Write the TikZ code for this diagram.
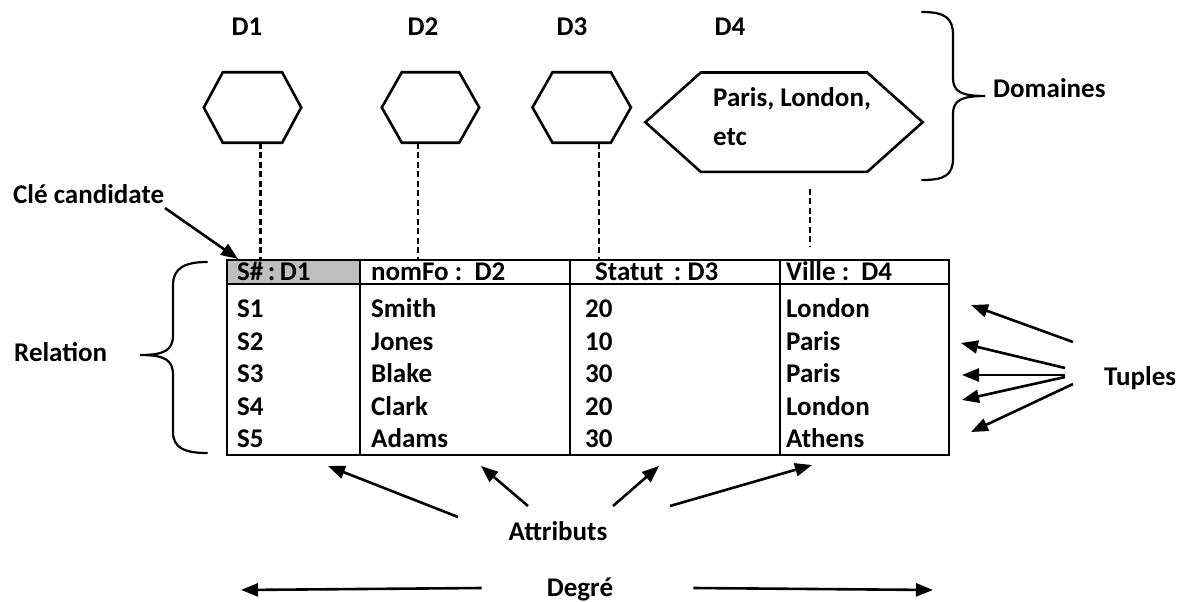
\documentclass[tikz,border=0pt]{standalone}
\usepackage{fontspec}
\setmainfont{Carlito}
\usetikzlibrary{arrows.meta}
\newcommand\hexoutline[2]{%
  \draw[hexline] (#1.west) -- ([xshift=#2]#1.north west) -- ([xshift=-#2]#1.north east)
    -- (#1.east) -- ([xshift=-#2]#1.south east) -- ([xshift=#2]#1.south west) -- cycle;}
\begin{document}
\begin{tikzpicture}[x=1pt,y=-1pt,
  txt/.style={font=\fontsize{27}{31}\selectfont\bfseries, inner sep=0pt,
              text height=17.5pt, text depth=0pt},
  hexbox/.style={inner sep=0pt, draw=none},
  hexline/.style={line width=2.6pt, line join=miter},
  rule/.style={line width=2pt},
  dashline/.style={line width=2.2pt, dash pattern=on 6pt off 3.5pt},
  arr/.style={line width=2.6pt, -{Triangle[length=17pt,width=13pt]}},
  bracket/.style={line width=2.2pt, line cap=round},
]
\useasboundingbox (0,0) rectangle (1186,602);

% domain labels
\node[txt] (d1) at (247,27) {D1};
\node[txt] (d2) at (423,27) {D2};
\node[txt] (d3) at (572,27) {D3};
\node[txt] (d4) at (730,27) {D4};

% domain hexagons
\node[hexbox, minimum width=97pt, minimum height=70pt] (h1) at (252.5,107.5) {};
\node[hexbox, minimum width=97pt, minimum height=70pt] (h2) at (430.5,107.5) {};
\node[hexbox, minimum width=98pt, minimum height=70pt] (h3) at (581.7,107.5) {};
\node[hexbox, minimum width=277pt, minimum height=99pt] (h4) at (784,122.2) {};
\hexoutline{h1}{19pt}
\hexoutline{h2}{20pt}
\hexoutline{h3}{20pt}
\hexoutline{h4}{55.5pt}
\node[txt, text height=, text depth=, anchor=west, align=left,
      font=\fontsize{27}{39}\selectfont\bfseries] (h4txt) at (713,117) {Paris, London,\\etc};

% Domaines brace
\draw[bracket] (922,12) .. controls (945,12) and (953,18) .. (953,35) -- (953,78)
  .. controls (953,92) and (962,96) .. (985,96)
  .. controls (962,96) and (953,100) .. (953,114) -- (953,158)
  .. controls (953,175) and (945,180) .. (922,180);
\node[txt, anchor=west] (dom) at (993,89) {Domaines};

% relation table
\fill[gray!50] (227,260) rectangle (360,283.5);
\node[draw, rule, inner sep=0pt, minimum width=722pt, minimum height=195pt] (tbl) at (588,357.5) {};
\draw[rule] (227,283.5) -- (949,283.5);
\draw[rule] (360,260) -- (360,455);
\draw[rule] (570,260) -- (570,455);
\draw[rule] (780,260) -- (780,455);

\node[txt, anchor=west] (k1) at (237,271.5) {S\#\,:\,D1};
\node[txt, anchor=west] (k2) at (371,271.5) {nomFo :\ \ D2};
\node[txt, anchor=west] (k3) at (595,271.5) {Statut \,:\ D3};
\node[txt, anchor=west] (k4) at (786,271.5) {Ville :\ \ D4};

\foreach \i/\s/\n/\v/\c/\y in {1/S1/Smith/20/London/309,
                                2/S2/Jones/10/Paris/341.5,
                                3/S3/Blake/30/Paris/374,
                                4/S4/Clark/20/London/406.5,
                                5/S5/Adams/30/Athens/439}{
  \node[txt, anchor=west] (s\i) at (237,\y) {\s};
  \node[txt, anchor=west] (n\i) at (371,\y) {\n};
  \node[txt, anchor=west] (v\i) at (585,\y) {\v};
  \node[txt, anchor=west] (c\i) at (786,\y) {\c};
}

% links from domains to attributes
\draw[dashline] ([xshift=8pt]h1.south) -- ([xshift=8pt]h1.south |- tbl.north);
\draw[dashline] ([xshift=-12.5pt]h2.south) -- ([xshift=-12.5pt]h2.south |- tbl.north);
\draw[dashline] ([xshift=17.5pt]h3.south) -- ([xshift=17.5pt]h3.south |- tbl.north);
\draw[dashline, shorten <=17pt, shorten >=13pt] ([xshift=26pt]h4.south) -- ([xshift=26pt]h4.south |- tbl.north);

% candidate key
\node[txt, anchor=west] (cle) at (13,195) {Clé candidate};
\coordinate (cleA) at (165,208);
\draw[arr] (cleA) -- ([xshift=12pt]tbl.north west);

% Relation brace
\draw[bracket] (207,262) .. controls (185,262) and (173,268) .. (173,285) -- (173,335)
  .. controls (173,350) and (165,355) .. (140,355)
  .. controls (165,355) and (173,360) .. (173,375) -- (173,432)
  .. controls (173,448) and (185,453) .. (207,453);
\node[txt, anchor=west] (rel) at (14,353) {Relation};

% tuples
\node[txt, anchor=west] (tup) at (1104,377) {Tuples};
\coordinate (ta1) at (1073,342); \coordinate (tb1) at (971,305);
\coordinate (ta2) at (1065,368); \coordinate (tb2) at (961,343);
\coordinate (ta3) at (1065,375); \coordinate (tb3) at (962,375);
\coordinate (ta4) at (1065,377); \coordinate (tb4) at (962,400);
\coordinate (ta5) at (1073,384); \coordinate (tb5) at (971,432);
\foreach \k in {1,...,5}{\draw[arr] (ta\k) -- (tb\k);}

% attributes
\node[txt] (att) at (558,532) {Attributs};
\coordinate (aa1) at (458,517); \coordinate (ab1) at (328,466);
\coordinate (aa2) at (528,506); \coordinate (ab2) at (481,466);
\coordinate (aa3) at (613,506); \coordinate (ab3) at (659,466);
\coordinate (aa4) at (670,506); \coordinate (ab4) at (812,465);
\foreach \k in {1,...,4}{\draw[arr] (aa\k) -- (ab\k);}

% degree
\node[txt] (deg) at (580,588) {Degré};
\coordinate (dl) at (241,590);
\coordinate (dr) at (933,590);
\draw[arr] ([xshift=-65pt]deg.west) -- (dl);
\draw[arr] ([xshift=80pt]deg.east) -- (dr);
\end{tikzpicture}
\end{document}
